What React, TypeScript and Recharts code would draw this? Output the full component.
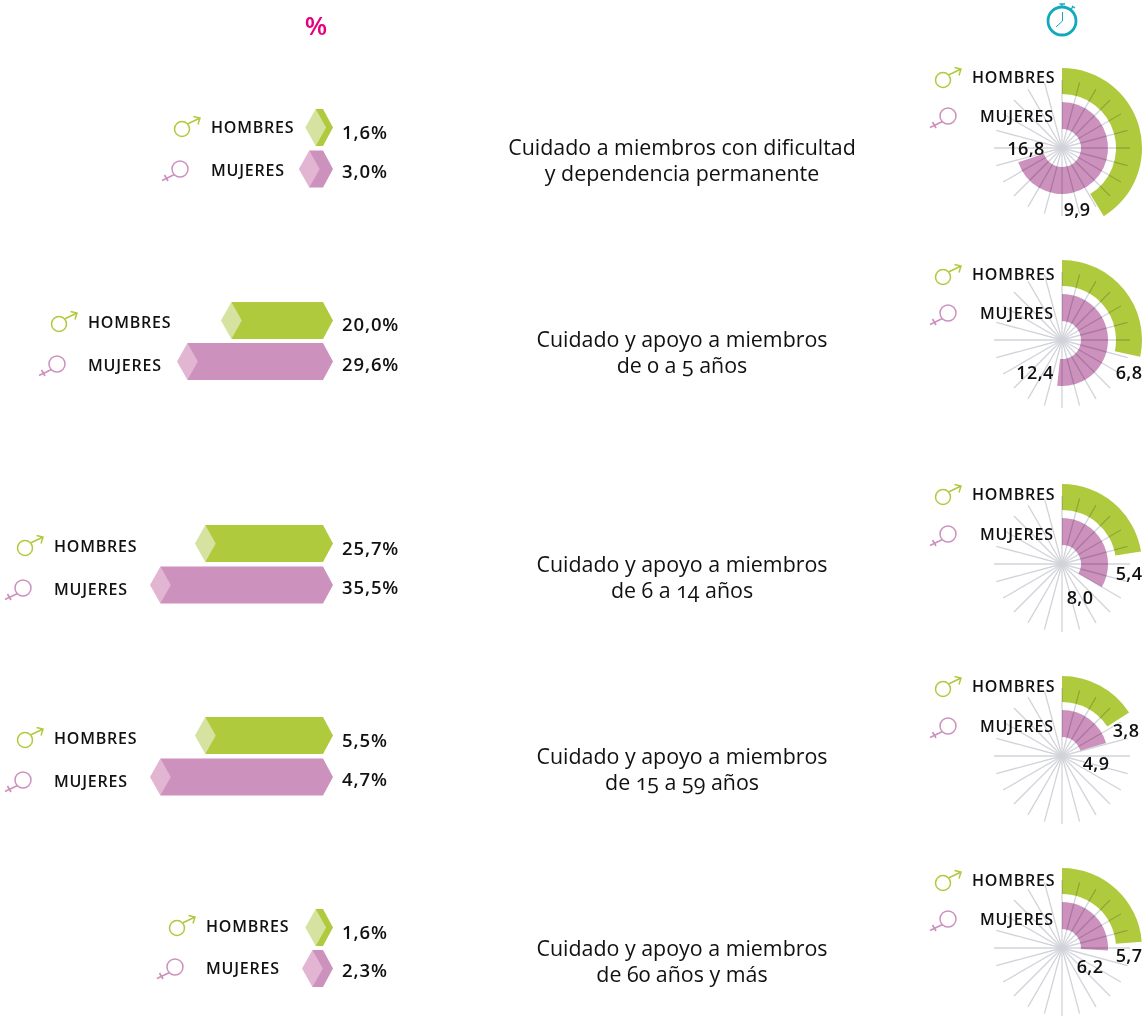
import React from 'react';
import { BarChart, Bar, XAxis, YAxis, PieChart, Pie, Cell, PolarGrid } from 'recharts';

const titles = [
  ['Cuidado a miembros con dificultad', 'y dependencia permanente'],
  ['Cuidado y apoyo a miembros', 'de 0 a 5 años'],
  ['Cuidado y apoyo a miembros', 'de 6 a 14 años'],
  ['Cuidado y apoyo a miembros', 'de 15 a 59 años'],
  ['Cuidado y apoyo a miembros', 'de 60 años y más'],
];
const titleY = [160, 352, 577, 769, 961];

// printed labels
const pctHombres = ['1,6%', '20,0%', '25,7%', '5,5%', '1,6%'];
const pctMujeres = ['3,0%', '29,6%', '35,5%', '4,7%', '2,3%'];
// bar lengths as drawn: row 4 repeats the lengths of row 3 in the original
const barHombres = [1.6, 20.0, 25.7, 25.7, 1.6];
const barMujeres = [3.0, 29.6, 35.5, 35.5, 2.3];
const hoursHombres = [9.9, 6.8, 5.4, 3.8, 5.7];
const hoursMujeres = [16.8, 12.4, 8.0, 4.9, 6.2];

// layout of each row
const barCenterH = [128, 320, 544, 736, 927.5];
const barCenterM = [169.5, 361, 585.5, 777.5, 968.5];
const pctYH = [132, 324, 548, 740, 932];
const pctYM = [171, 364, 587, 779, 970];
const legendX = [211, 88, 54, 54, 206];
const legendYH = [127, 322, 546, 738, 926];
const legendYM = [170, 365, 589, 781, 968];
const clockCy = [148, 340, 564, 756, 948];
const clockLegendYH = [77, 274, 494, 686, 880];
const clockLegendYM = [116, 313, 534, 726, 919];
const clockLabelH = [[1077, 209], [1129, 372], [1129, 573], [1126, 730], [1129, 955]];
const clockLabelM = [[1026, 148], [1035, 372], [1080, 597], [1096, 763], [1090, 966]];

const GREEN = '#afca3d';
const GREEN_LIGHT = '#d6e3a0';
const PINK = '#cc91bd';
const PINK_LIGHT = '#e2b5d3';
const INK = '#111';
const FONT = '"Open Sans", Lato, sans-serif';
const spokes = Array.from({ length: 24 }, (_, i) => i * 15);

const Hexagon = (props: any) => {
  const { x, y, width, height, payload } = props;
  const { dark, light } = payload;
  // the axis is reversed, so the width may come back negative
  const left = Math.min(x, x + width);
  const right = Math.max(x, x + width);
  const tipL = 10.4;
  const tipR = 10;
  const mid = y + height / 2;
  const bot = y + height;
  return (
    <g>
      <path
        d={`M${left},${y} L${right},${y} L${right + tipR},${mid} L${right},${bot} L${left},${bot} Z`}
        fill={dark}
      />
      <path
        d={`M${left},${y} L${left + tipL},${mid} L${left},${bot} L${left - tipL},${mid} Z`}
        fill={light}
      />
    </g>
  );
};

const BarRow = ({ i }: { i: number }) => {
  const data = [
    { name: 'Hombres', value: barHombres[i], dark: GREEN, light: GREEN_LIGHT },
    { name: 'Mujeres', value: barMujeres[i], dark: PINK, light: PINK_LIGHT },
  ];
  const step = barCenterM[i] - barCenterH[i];
  return (
    <div style={{ position: 'absolute', left: 0, top: barCenterH[i] - step / 2 }}>
      <BarChart
        width={340}
        height={step * 2}
        data={data}
        layout="vertical"
        margin={{ top: 0, right: 17, bottom: 0, left: 139.8 }}
        style={{ overflow: 'visible' }}
      >
        <XAxis type="number" domain={[0, 40]} reversed hide />
        <YAxis type="category" dataKey="name" hide />
        <Bar dataKey="value" barSize={37} shape={<Hexagon />} isAnimationActive={false} />
      </BarChart>
    </div>
  );
};

const Clock = ({ i }: { i: number }) => {
  const size = 170;
  const ring = (hours: number) => [{ value: hours }, { value: 24 - hours }];
  return (
    <div style={{ position: 'absolute', left: 1062 - size / 2, top: clockCy[i] - size / 2 }}>
      <PieChart width={size} height={size} margin={{ top: 0, right: 0, bottom: 0, left: 0 }}>
        <Pie
          data={ring(hoursHombres[i])}
          dataKey="value"
          cx={size / 2}
          cy={size / 2}
          innerRadius={54}
          outerRadius={80}
          startAngle={90}
          endAngle={-270}
          stroke="none"
          isAnimationActive={false}
        >
          <Cell fill={GREEN} />
          <Cell fill="none" />
        </Pie>
        <Pie
          data={ring(hoursMujeres[i])}
          dataKey="value"
          cx={size / 2}
          cy={size / 2}
          innerRadius={19}
          outerRadius={46}
          startAngle={90}
          endAngle={-270}
          stroke="none"
          isAnimationActive={false}
        >
          <Cell fill={PINK} />
          <Cell fill="none" />
        </Pie>
        <PolarGrid
          cx={size / 2}
          cy={size / 2}
          innerRadius={0}
          outerRadius={80}
          polarAngles={spokes}
          polarRadius={[]}
          stroke="#d2d3da"
          strokeWidth={1.3}
          zIndex={1000}
        />
      </PieChart>
    </div>
  );
};

const MaleIcon = ({ x, y }: { x: number; y: number }) => (
  <svg style={{ position: 'absolute', left: x - 12, top: y - 22, overflow: 'visible' }} width={40} height={40}>
    <circle cx={12} cy={22} r={7.5} fill="none" stroke={GREEN} strokeWidth={1.5} />
    <path d="M17.5,17 L30,11 M23.5,9.5 L30,11 L28,17.5" fill="none" stroke={GREEN} strokeWidth={1.5} />
  </svg>
);

const FemaleIcon = ({ x, y }: { x: number; y: number }) => (
  <svg style={{ position: 'absolute', left: x - 22, top: y - 12, overflow: 'visible' }} width={40} height={40}>
    <circle cx={22} cy={12} r={8} fill="none" stroke={PINK} strokeWidth={1.5} />
    <path d="M16.5,17.5 L4,23.5 M6.5,18 L10,24" fill="none" stroke={PINK} strokeWidth={1.7} />
  </svg>
);

const Label = ({ x, y, size = 17, anchor = 'left', spacing = 0, weight = 400, onum = false, lineHeight = 1, children }: any) => (
  <div
    style={{
      position: 'absolute',
      left: x,
      top: y,
      transform: `translate(${anchor === 'center' ? '-50%' : '0'}, -50%)`,
      fontFamily: FONT,
      fontSize: size,
      fontWeight: weight,
      letterSpacing: spacing,
      color: INK,
      whiteSpace: 'nowrap',
      lineHeight,
      textAlign: anchor === 'center' ? 'center' : 'left',
      fontFeatureSettings: onum ? '"onum"' : 'normal',
    }}
  >
    {children}
  </div>
);

const Legend = ({ x, y, children }: any) => (
  <Label x={x} y={y} size={16} spacing={0.8} weight={600}>{children}</Label>
);
const Pct = ({ y, children }: any) => (
  <Label x={342} y={y} size={18.5} spacing={0.9} weight={600}>{children}</Label>
);
const Hours = ({ at, value }: any) => (
  <Label x={at[0]} y={at[1]} size={18} spacing={0.4} weight={600} anchor="center">
    {value.toFixed(1).replace('.', ',')}
  </Label>
);

export default function App() {
  return (
    <div style={{ position: 'absolute', left: 0, top: 0, width: 1142, height: 1024, overflow: 'hidden', background: '#fff' }}>
      {/* spokes darken the rings they cross, but not each other */}
      <style>{'.recharts-polar-grid { mix-blend-mode: multiply; }'}</style>
      <div
        style={{
          position: 'absolute',
          left: 316,
          top: 25,
          transform: 'translate(-50%, -50%)',
          fontFamily: FONT,
          fontSize: 26,
          fontWeight: 600,
          color: '#e6007e',
          lineHeight: 1,
        }}
      >
        %
      </div>
      <svg style={{ position: 'absolute', left: 1042, top: 0 }} width={40} height={40}>
        <circle cx={20} cy={21} r={14} fill="none" stroke="#12a9bd" strokeWidth={2.8} />
        <path d="M20.5,12 L20.5,21 L14,27" fill="none" stroke="#12a9bd" strokeWidth={1} />
        <path d="M17.5,4 L23,4 M20,4 L20,7 M30,6 L33,8 M31,6 L29.5,9" fill="none" stroke="#12a9bd" strokeWidth={1.3} />
      </svg>

      {titles.map((t, i) => (
        <BarRow key={`bar-${i}`} i={i} />
      ))}
      {titles.map((t, i) => (
        <Clock key={`clock-${i}`} i={i} />
      ))}

      {titles.map((t, i) => (
        <React.Fragment key={`text-${i}`}>
          <Label x={682} y={titleY[i]} size={21.4} weight={500} anchor="center" lineHeight="26px" onum>
            {t[0]}
            <br />
            {t[1]}
          </Label>

          <MaleIcon x={legendX[i] - 29} y={legendYH[i] + 2} />
          <FemaleIcon x={legendX[i] - 31} y={legendYM[i] - 1} />
          <Legend x={legendX[i]} y={legendYH[i]}>HOMBRES</Legend>
          <Legend x={legendX[i]} y={legendYM[i]}>MUJERES</Legend>
          <Pct y={pctYH[i]}>{pctHombres[i]}</Pct>
          <Pct y={pctYM[i]}>{pctMujeres[i]}</Pct>

          <MaleIcon x={943} y={clockLegendYH[i] + 3} />
          <FemaleIcon x={948} y={clockLegendYM[i]} />
          <Legend x={972} y={clockLegendYH[i]}>HOMBRES</Legend>
          <Legend x={980} y={clockLegendYM[i]}>MUJERES</Legend>
          <Hours at={clockLabelH[i]} value={hoursHombres[i]} />
          <Hours at={clockLabelM[i]} value={hoursMujeres[i]} />
        </React.Fragment>
      ))}
    </div>
  );
}
